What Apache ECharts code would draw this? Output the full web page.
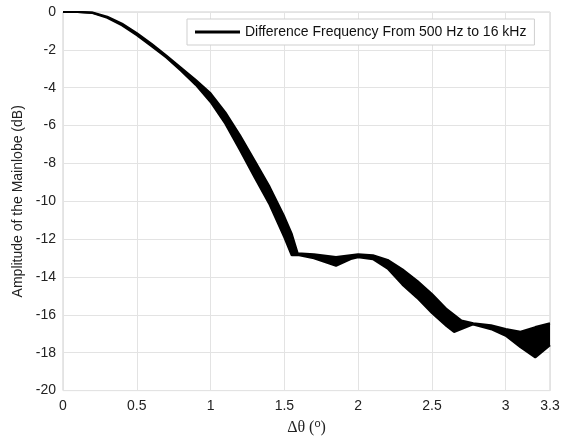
<!DOCTYPE html>
<html>
<head>
<meta charset="utf-8">
<script src="https://cdn.jsdelivr.net/npm/echarts@6/dist/echarts.min.js"></script>
<style>
  html, body { margin: 0; padding: 0; background: #fff; }
  #chart { width: 567px; height: 441px; }
</style>
</head>
<body>
<div id="chart"></div>
<script>
// edges of the bundle of curves (one per difference frequency)
const lowerX = [0, 0.1, 0.2, 0.3, 0.4, 0.5, 0.6, 0.7, 0.8, 0.9, 1.0, 1.1, 1.2, 1.3, 1.4, 1.5, 1.55, 1.6, 1.7, 1.85, 1.95, 2.0, 2.1, 2.2, 2.3, 2.4, 2.5, 2.6, 2.65, 2.7, 2.78, 2.9, 3.0, 3.1, 3.2, 3.3];
const lowerY = [0, 0, -0.05, -0.3, -0.7, -1.22, -1.8, -2.4, -3.1, -3.85, -4.75, -5.9, -7.3, -8.76, -10.17, -11.9, -12.85, -12.85, -13.0, -13.4, -13.05, -12.95, -13.05, -13.55, -14.4, -15.1, -15.9, -16.6, -16.9, -16.75, -16.5, -16.75, -17.1, -17.7, -18.25, -17.6];
const upperX = [0, 0.1, 0.2, 0.3, 0.4, 0.5, 0.6, 0.7, 0.8, 0.9, 1.0, 1.1, 1.2, 1.3, 1.4, 1.5, 1.55, 1.59, 1.7, 1.85, 2.0, 2.1, 2.2, 2.3, 2.4, 2.5, 2.6, 2.7, 2.78, 2.9, 3.0, 3.1, 3.2, 3.3];
const upperY = [0, 0, -0.03, -0.25, -0.62, -1.12, -1.68, -2.3, -2.95, -3.6, -4.3, -5.3, -6.53, -7.87, -9.24, -10.82, -11.73, -12.75, -12.8, -12.95, -12.8, -12.85, -13.1, -13.6, -14.2, -14.9, -15.7, -16.3, -16.45, -16.55, -16.75, -16.9, -16.65, -16.45];

const legendName = 'Difference Frequency From 500 Hz to 16 kHz';
const fontSans = 'Arial, "Liberation Sans", sans-serif';

const zip = (xs, ys) => xs.map((x, i) => [x, ys[i]]);
const lowerData = zip(lowerX, lowerY);
const upperData = zip(upperX, upperY);

const chart = echarts.init(document.getElementById('chart'));

chart.setOption({
  animation: false,
  backgroundColor: '#fff',
  grid: { left: 63, right: 17, top: 12, bottom: 49, show: true, borderColor: '#cfcfcf', borderWidth: 1 },
  legend: {
    data: [{ name: legendName, icon: 'rect' }],
    left: 187,
    top: 19,
    padding: [6, 8, 6, 8],
    itemWidth: 45,
    itemHeight: 3,
    backgroundColor: '#fff',
    borderColor: '#cfcfcf',
    borderWidth: 1,
    textStyle: { fontFamily: fontSans, fontSize: 14, color: '#111' }
  },
  xAxis: {
    type: 'value',
    min: 0,
    max: 3.3,
    interval: 0.5,
    name: '{a|Δθ (}{s|o}{a|)}',
    nameLocation: 'middle',
    nameGap: 26,
    nameTextStyle: {
      rich: {
        a: { fontFamily: '"Liberation Serif", "DejaVu Serif", serif', fontSize: 16, color: '#222' },
        s: { fontFamily: fontSans, fontSize: 11, color: '#222', verticalAlign: 'top', padding: [0, 0, 8, 0] }
      }
    },
    axisLine: { show: false },
    axisTick: { show: false },
    axisLabel: { fontFamily: fontSans, fontSize: 14, color: '#222', margin: 9, showMaxLabel: true },
    splitLine: { show: true, lineStyle: { color: '#e3e3e3', width: 1 } }
  },
  yAxis: {
    type: 'value',
    min: -20,
    max: 0,
    interval: 2,
    name: 'Amplitude of the Mainlobe (dB)',
    nameLocation: 'middle',
    nameGap: 35,
    nameTextStyle: { fontFamily: fontSans, fontSize: 14, color: '#222' },
    axisLine: { show: false },
    axisTick: { show: false },
    axisLabel: { fontFamily: fontSans, fontSize: 14, color: '#222', margin: 7 },
    splitLine: { show: true, lineStyle: { color: '#e3e3e3', width: 1 } }
  },
  series: [
    {
      // filled band between the two edge curves
      type: 'custom',
      silent: true,
      clip: true,
      z: 1,
      data: [[0, 0]],
      renderItem: function (params, api) {
        const pts = upperData.map(p => api.coord(p))
          .concat(lowerData.slice().reverse().map(p => api.coord(p)));
        return { type: 'polygon', shape: { points: pts }, style: { fill: '#000' } };
      }
    },
    {
      type: 'line',
      data: lowerData,
      showSymbol: false,
      z: 2,
      lineStyle: { color: '#000', width: 2.2 },
      itemStyle: { color: '#000' }
    },
    {
      name: legendName,
      type: 'line',
      data: upperData,
      showSymbol: false,
      z: 2,
      lineStyle: { color: '#000', width: 2.2 },
      itemStyle: { color: '#000' }
    }
  ]
});
</script>
</body>
</html>
